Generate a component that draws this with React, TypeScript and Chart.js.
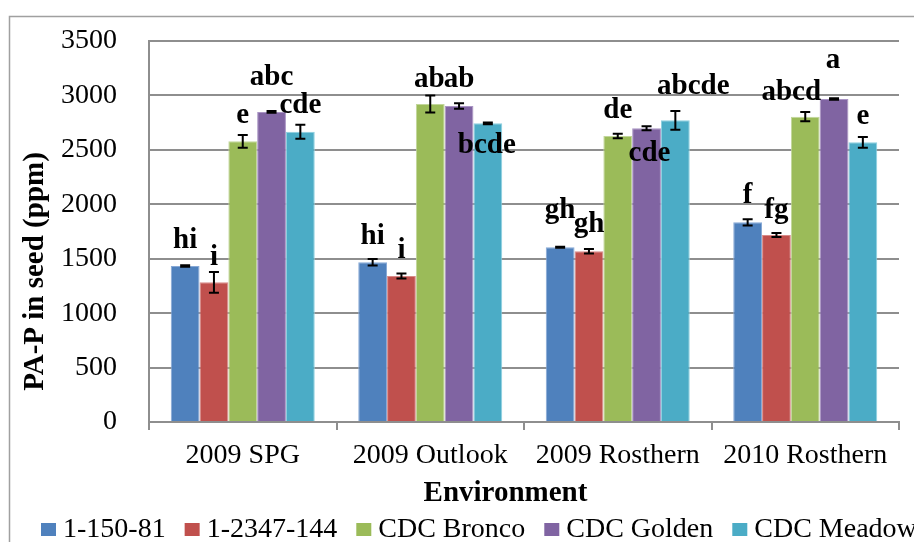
import React, { useEffect, useRef } from 'react';
import { Chart, registerables } from 'chart.js';

Chart.register(...registerables);

// ---------- data ----------
const categories = ['2009 SPG', '2009 Outlook', '2009 Rosthern', '2010 Rosthern'];
const seriesNames = ['1-150-81', '1-2347-144', 'CDC Bronco', 'CDC Golden', 'CDC Meadow'];

const values150 = [1433, 1467, 1605, 1834];
const values2347 = [1283, 1341, 1568, 1718];
const valuesBronco = [2578, 2921, 2627, 2805];
const valuesGolden = [2848, 2903, 2698, 2967];
const valuesMeadow = [2667, 2744, 2771, 2569];

const err150 = [6, 30, 5, 29];
const err2347 = [95, 23, 21, 18];
const errBronco = [58, 78, 21, 43];
const errGolden = [8, 25, 18, 6];
const errMeadow = [64, 8, 87, 50];

const letters150 = ['hi', 'hi', 'gh', 'f'];
const letters2347 = ['i', 'i', 'gh', 'fg'];
const lettersBronco = ['e', 'ab', 'de', 'abcd'];
const lettersGolden = ['abc', 'ab', 'cde', 'a'];
const lettersMeadow = ['cde', 'bcde', 'abcde', 'e'];

const yMin = 0;
const yMax = 3500;
const yStep = 500;

const xTitle = 'Environment';
const yTitle = 'PA-P in seed (ppm)';

// ---------- styles / placement (not data) ----------
const colors = ['#4F81BD', '#C0504D', '#9BBB59', '#8064A2', '#4BACC6'];
const edgeColors = ['#86a8d6', '#d88a88', '#c1d69a', '#a994c4', '#8dd0e0'];
// label offsets relative to the bar top (px): [dx, dy] per series per category
const labelDx = [
  [0, 0, 0, 0],
  [0, 0, 0, 0],
  [0, -1, 0, -14],
  [0, 0, 3, -1],
  [0, -1, 18, 0],
];
const labelDy = [
  [-18, -18, -29, -19],
  [-17, -18, -19, -17],
  [-18, -17, -18, -17],
  [-27, -19, 33, -31],
  [-19, 30, -26, -18],
];

const FONT = "'Liberation Serif', 'Times New Roman', serif";
const GRID = '#8e8e8e';
const FRAME = '#a0a0a0';

const valueSeries = [values150, values2347, valuesBronco, valuesGolden, valuesMeadow];
const errSeries = [err150, err2347, errBronco, errGolden, errMeadow];
const letterSeries = [letters150, letters2347, lettersBronco, lettersGolden, lettersMeadow];

const decorPlugin = {
  id: 'decor',
  beforeDraw(chart: any) {
    const ctx = chart.ctx;
    ctx.save();
    ctx.fillStyle = '#ffffff';
    ctx.fillRect(0, 0, chart.width, chart.height);
    ctx.strokeStyle = FRAME;
    ctx.lineWidth = 1.5;
    ctx.strokeRect(9.5, 16.5, chart.width + 40, chart.height + 40);
    ctx.restore();
  },
  afterDatasetsDraw(chart: any) {
    const ctx = chart.ctx;
    const yScale = chart.scales.y;
    ctx.save();
    // error bars
    ctx.strokeStyle = '#000000';
    ctx.lineWidth = 2;
    errSeries.forEach((errs, i) => {
      const meta = chart.getDatasetMeta(i);
      meta.data.forEach((el: any, j: number) => {
        const v = valueSeries[i][j];
        const e = errs[j];
        const yt = yScale.getPixelForValue(v + e);
        const yb = yScale.getPixelForValue(v - e);
        const x = el.x;
        ctx.beginPath();
        ctx.moveTo(x, yt);
        ctx.lineTo(x, yb);
        ctx.moveTo(x - 5, yt);
        ctx.lineTo(x + 5, yt);
        ctx.moveTo(x - 5, yb);
        ctx.lineTo(x + 5, yb);
        ctx.stroke();
      });
    });
    // significance letters
    ctx.fillStyle = '#000000';
    ctx.font = `bold 29px ${FONT}`;
    ctx.textAlign = 'center';
    ctx.textBaseline = 'alphabetic';
    letterSeries.forEach((letters, i) => {
      const meta = chart.getDatasetMeta(i);
      meta.data.forEach((el: any, j: number) => {
        ctx.fillText(letters[j], el.x + labelDx[i][j], el.y + labelDy[i][j]);
      });
    });
    ctx.restore();
  },
  afterDraw(chart: any) {
    const ctx = chart.ctx;
    ctx.save();
    ctx.fillStyle = '#000000';
    // y title
    ctx.font = `bold 29px ${FONT}`;
    ctx.textAlign = 'center';
    ctx.textBaseline = 'alphabetic';
    ctx.save();
    ctx.translate(42.5, 271.5);
    ctx.rotate(-Math.PI / 2);
    ctx.fillText(yTitle, 0, 0);
    ctx.restore();
    // x title
    ctx.fillText(xTitle, 505.5, 500.5);
    // legend
    ctx.font = `28px ${FONT}`;
    ctx.textAlign = 'left';
    let x = 41;
    seriesNames.forEach((name, i) => {
      ctx.fillStyle = colors[i];
      ctx.fillRect(x, 523, 15, 13);
      ctx.fillStyle = '#000000';
      const tx = x + 22;
      ctx.fillText(name, tx, 537);
      x = tx + ctx.measureText(name).width + 19;
    });
    ctx.restore();
  },
};

export default function App() {
  const canvasRef = useRef<HTMLCanvasElement | null>(null);

  useEffect(() => {
    const canvas = canvasRef.current;
    if (!canvas) return;
    const chart = new Chart(canvas, {
      type: 'bar',
      data: {
        labels: categories,
        datasets: seriesNames.map((name, i) => ({
          label: name,
          data: valueSeries[i],
          backgroundColor: colors[i],
          borderColor: edgeColors[i],
          borderWidth: 1,
          categoryPercentage: 0.768,
          barPercentage: 1.0,
        })),
      },
      options: {
        responsive: false,
        animation: false,
        devicePixelRatio: 1,
        layout: { padding: { top: 41, right: 31, left: 0, bottom: 0 } },
        plugins: {
          legend: { display: false },
          title: { display: false },
          tooltip: { enabled: false },
        },
        scales: {
          x: {
            afterFit(scale: any) {
              scale.height = 138;
              scale.paddingLeft = 0;
              scale.paddingRight = 0;
              scale.paddingTop = 0;
              scale.paddingBottom = 0;
            },
            grid: {
              display: true,
              offset: true,
              drawOnChartArea: false,
              drawTicks: true,
              tickLength: 8,
              color: GRID,
              lineWidth: 2,
            },
            border: { display: true, color: GRID, width: 2 },
            ticks: {
              color: '#000000',
              font: { family: FONT, size: 28 },
              padding: 9,
              maxRotation: 0,
              autoSkip: false,
            },
          },
          y: {
            min: yMin,
            max: yMax,
            afterFit(scale: any) {
              scale.width = 149;
              scale.paddingLeft = 0;
              scale.paddingRight = 0;
              scale.paddingTop = 0;
              scale.paddingBottom = 0;
            },
            grid: {
              color: GRID,
              lineWidth: 2,
              drawTicks: false,
              tickLength: 0,
            },
            border: { display: true, color: GRID, width: 2 },
            ticks: {
              stepSize: yStep,
              color: '#000000',
              font: { family: FONT, size: 28 },
              padding: 32,
              callback: (v: any) => String(v),
            },
          },
        },
      },
      plugins: [decorPlugin],
    });
    return () => chart.destroy();
  }, []);

  return (
    <div
      style={{
        position: 'fixed',
        left: 0,
        top: 0,
        width: 914,
        height: 542,
        overflow: 'hidden',
        background: '#ffffff',
      }}
    >
      <canvas ref={canvasRef} width={930} height={560} style={{ display: 'block' }} />
    </div>
  );
}
